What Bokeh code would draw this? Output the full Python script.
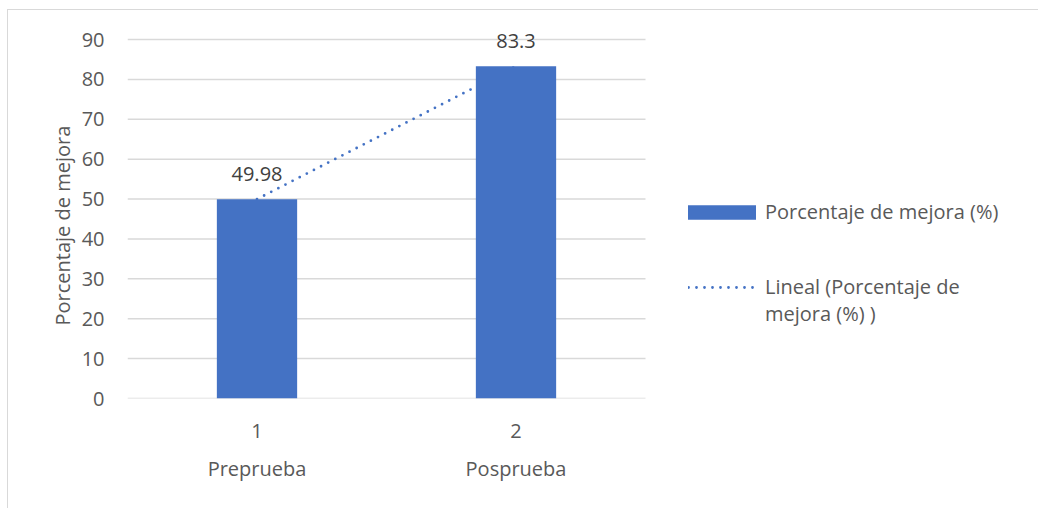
import numpy as np
from bokeh.plotting import figure
from bokeh.models import (ColumnDataSource, LinearAxis, FixedTicker, Legend,
                          LegendItem, Range1d)
from bokeh.core.properties import value
from bokeh.embed import file_html
from bokeh.resources import INLINE

# ---- data ----
categories = ["Preprueba", "Posprueba"]
tick_labels = ["1", "2"]
positions = [1, 2]
values = [49.98, 83.3]
value_labels = ["49.98", "83.3"]
y_ticks = [0, 10, 20, 30, 40, 50, 60, 70, 80, 90]
series_name = "Porcentaje de mejora (%)"
trend_name_lines = ["Lineal (Porcentaje de", "mejora (%) )"]
y_title = "Porcentaje de mejora"

FONT = "Open Sans"
FS = "20px"
GREY = "#595959"
BLUE = "#4472c4"
GRID = "#d9d9d9"

# ---- layout (pixels) ----
FIG_W, FIG_H = 1030, 498
LEFT, TOP_PAD, BOTTOM = 119, 0, 110
AREA_W, AREA_H = 518, 359          # Excel plot area
X_START, X_END = 0.5, 2.5          # plot-area x extent (categories 1..2)
Y_START, Y_END = 0, 90             # plot-area y extent

frame_w = FIG_W - LEFT
frame_h = FIG_H - TOP_PAD - BOTTOM
x_hi = X_START + (X_END - X_START) * frame_w / AREA_W
y_hi = Y_START + (Y_END - Y_START) * frame_h / AREA_H

src = ColumnDataSource(dict(x=positions, top=values, lab=value_labels))

# linear trendline (Excel "Lineal") fitted to the series
coef = np.polyfit(positions, values, 1)
trend_x = [positions[0], positions[-1]]
trend_y = list(np.polyval(coef, trend_x))

p = figure(frame_width=frame_w, frame_height=frame_h,
           x_range=Range1d(X_START, x_hi), y_range=Range1d(Y_START, y_hi),
           min_border_left=LEFT, min_border_top=TOP_PAD,
           min_border_right=0, min_border_bottom=BOTTOM,
           output_backend="svg", toolbar_location=None,
           title=y_title, title_location="left",
           styles={"border-left": "1px solid #d9d9d9",
                   "border-top": "1px solid #d9d9d9",
                   "margin-left": "7px", "margin-top": "9px"})
p.outline_line_color = None
p.background_fill_color = "white"
p.border_fill_color = "white"
p.xgrid.grid_line_color = None
p.ygrid.grid_line_color = None

# vertical axis title (placed as a left-side title so it centres on the plot area)
p.title.text_font = FONT
p.title.text_font_size = FS
p.title.text_font_style = "normal"
p.title.text_color = GREY
p.title.align = "left"
p.title.offset = 73
p.title.standoff = 6

# horizontal gridlines across the plot area only
p.segment(x0=X_START, x1=X_END, y0=y_ticks, y1=y_ticks,
          line_color=GRID, line_width=1.5)

# axes
p.xaxis.ticker = FixedTicker(ticks=positions)
p.xaxis.major_label_overrides = {pp: t for pp, t in zip(positions, tick_labels)}
p.xaxis.axis_line_color = None
for ax in [p.xaxis[0], p.yaxis[0]]:
    ax.major_tick_line_color = None
    ax.minor_tick_line_color = None
    ax.major_tick_out = 0
    ax.major_tick_in = 0
    ax.major_label_text_font = FONT
    ax.major_label_text_font_size = FS
    ax.major_label_text_color = GREY
p.xaxis.major_label_standoff = 25

cat_axis = LinearAxis(ticker=FixedTicker(ticks=positions),
                      major_label_overrides={pp: c for pp, c in zip(positions, categories)},
                      axis_line_color=None, major_tick_line_color=None,
                      minor_tick_line_color=None, major_tick_out=0, major_tick_in=0,
                      major_label_text_font=FONT, major_label_text_font_size=FS,
                      major_label_text_color=GREY, major_label_standoff=14)
p.add_layout(cat_axis, "below")

p.yaxis.ticker = FixedTicker(ticks=y_ticks)
p.yaxis.bounds = (Y_START, Y_END)
p.yaxis.axis_line_color = None
p.yaxis.major_label_standoff = 23

# trendline first so the bars hide it where they overlap (as in Excel)
trend = p.line(trend_x, trend_y, line_color=BLUE, line_width=2.8,
               line_dash="0 8", line_cap="round")
bars = p.vbar(x="x", top="top", width=0.31, source=src,
              fill_color=BLUE, line_color=None)
# invisible renderer used only to carry the wrapped second legend line
wrap = p.line([], [], line_alpha=0)
p.text(x="x", y="top", text="lab", source=src, text_align="center",
       text_baseline="bottom", y_offset=-18, text_font=value(FONT),
       text_font_size=FS, text_color="#404040")

common = dict(label_text_font=FONT, label_text_font_size=FS,
              label_text_color=GREY, border_line_color=None,
              background_fill_alpha=0, padding=0, margin=0, spacing=0,
              label_height=20)
leg1 = Legend(items=[LegendItem(label=series_name, renderers=[bars])],
              location=(552, 173), glyph_width=85, glyph_height=18,
              label_standoff=1, **common)
leg2 = Legend(items=[LegendItem(label=trend_name_lines[0], renderers=[trend]),
                     LegendItem(label=trend_name_lines[1], renderers=[wrap])],
              location=(561, 71), glyph_width=68, glyph_height=18,
              label_standoff=9, **common)
p.add_layout(leg1, "center")
p.add_layout(leg2, "center")

open("out.html", "w").write(file_html(p, INLINE))
